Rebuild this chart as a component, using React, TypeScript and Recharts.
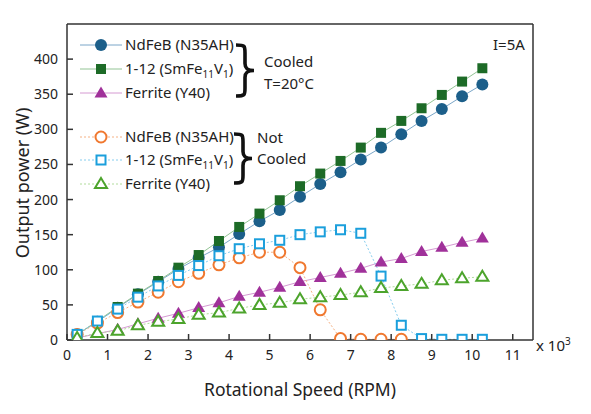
import React from 'react';
import { LineChart, Line, XAxis, YAxis, ReferenceLine } from 'recharts';

// rotational speed, x 10^3 RPM
const rpm = [0.25, 0.75, 1.25, 1.75, 2.25, 2.75, 3.25, 3.75, 4.25, 4.75, 5.25, 5.75, 6.25, 6.75, 7.25, 7.75, 8.25, 8.75, 9.25, 9.75, 10.25];

// output power (W), cooled T=20°C
const ndfebCooled = [8, 26, 46, 65, 83, 101, 117, 132, 151, 169, 185, 204, 222, 239, 257, 274, 293, 312, 329, 347, 364];
const smfeCooled = [8, 27, 47, 66, 84, 103, 121, 141, 161, 180, 199, 219, 237, 255, 274, 295, 312, 330, 349, 368, 387];
const ferriteCooled = [3, 9, 15, 23, 31, 38, 46, 53, 62, 68, 75, 83, 89, 95, 102, 111, 116, 126, 132, 139, 145];

// output power (W), not cooled
const ndfebNot = [8, 24, 39, 54, 68, 83, 95, 107, 117, 125, 125, 103, 43, 2, 1, 1, 1];
const smfeNot = [8, 27, 44, 61, 77, 92, 106, 120, 130, 137, 142, 150, 154, 157, 152, 91, 21, 2, 1, 1, 1];
const ferriteNot = [3, 10, 13, 21, 26, 30, 36, 39, 45, 50, 53, 58, 61, 64, 68, 74, 77, 80, 85, 88, 90];

const xTicks = [0, 1, 2, 3, 4, 5, 6, 7, 8, 9, 10, 11];
const yTicks = [0, 50, 100, 150, 200, 250, 300, 350, 400];

const FONT = '"Noto Sans", sans-serif';

const toPoints = (vals: number[]) => vals.map((y, i) => ({ x: rpm[i], y }));

type Marker = 'circle' | 'square' | 'triangle';

function drawMarker(kind: Marker, cx: number, cy: number, color: string, hollow: boolean, key?: any) {
    const fill = hollow ? '#fff' : color;
    const sw = hollow ? 2 : 0;
    if (kind === 'circle') {
        return <circle key={key} cx={cx} cy={cy} r={hollow ? 5.5 : 6} fill={fill} stroke={color} strokeWidth={sw} />;
    }
    if (kind === 'square') {
        const s = hollow ? 9 : 10;
        return <rect key={key} x={cx - s / 2} y={cy - s / 2} width={s} height={s} fill={fill} stroke={color} strokeWidth={sw} />;
    }
    const h = hollow ? 10 : 11;
    const w = hollow ? 12 : 13;
    return (
        <polygon
            key={key}
            points={`${cx},${cy - h * 0.6} ${cx + w / 2},${cy + h * 0.4} ${cx - w / 2},${cy + h * 0.4}`}
            fill={fill}
            stroke={color}
            strokeWidth={sw}
            strokeLinejoin="miter"
        />
    );
}

const makeDot = (kind: Marker, color: string, hollow: boolean) => (p: any) =>
    drawMarker(kind, p.cx, p.cy, color, hollow, p.key ?? `${p.index}`);

interface SeriesDef {
    id: string;
    data: number[];
    marker: Marker;
    color: string;
    line: string;
    hollow: boolean;
}

const series: SeriesDef[] = [
    { id: 'ndfebC', data: ndfebCooled, marker: 'circle', color: '#1c5f8a', line: '#7aa6c8', hollow: false },
    { id: 'smfeC', data: smfeCooled, marker: 'square', color: '#1d6b27', line: '#93c495', hollow: false },
    { id: 'ferC', data: ferriteCooled, marker: 'triangle', color: '#a0319a', line: '#d59ad2', hollow: false },
    { id: 'ndfebN', data: ndfebNot, marker: 'circle', color: '#f0782f', line: '#f5b184', hollow: true },
    { id: 'smfeN', data: smfeNot, marker: 'square', color: '#1b9fdc', line: '#86cdee', hollow: true },
    { id: 'ferN', data: ferriteNot, marker: 'triangle', color: '#4ca42c', line: '#b1dc9c', hollow: true },
];

const legendLabels = [
    <>NdFeB (N35AH)</>,
    <>1-12 (SmFe<sub style={{ fontSize: 10 }}>11</sub>V<sub style={{ fontSize: 10 }}>1</sub>)</>,
    <>Ferrite (Y40)</>,
];

const legendRows = [45, 69, 93, 137, 160, 184];

function brace(x: number, top: number, bottom: number, w: number) {
    const mid = (top + bottom) / 2;
    const m = x + w * 0.5;
    return `M ${x},${top} C ${m},${top} ${m},${top + 1} ${m},${top + 8} L ${m},${mid - 7} C ${m},${mid - 1} ${x + w * 0.7},${mid} ${x + w},${mid} C ${x + w * 0.7},${mid} ${m},${mid + 1} ${m},${mid + 7} L ${m},${bottom - 8} C ${m},${bottom - 1} ${m},${bottom} ${x},${bottom}`;
}

export default function App() {
    const textStyle: React.CSSProperties = { position: 'absolute', fontFamily: FONT, color: '#222', whiteSpace: 'nowrap' };
    return (
        <div style={{ position: 'absolute', left: 0, top: 0, width: 591, height: 414, background: '#fff' }}>
            <LineChart width={591} height={414} margin={{ top: 24, right: 58, bottom: 44, left: 0 }}>
                <XAxis
                    dataKey="x"
                    type="number"
                    domain={[0, 11.5]}
                    ticks={xTicks}
                    height={30}
                    tickSize={-6}
                    tickMargin={16}
                    allowDataOverflow
                    stroke="#333"
                    strokeWidth={1.5}
                    tick={{ fontSize: 14, fontFamily: FONT, fill: '#222' }}
                />
                <YAxis
                    type="number"
                    domain={[0, 450]}
                    ticks={yTicks}
                    width={67}
                    tickSize={-6}
                    tickMargin={15}
                    allowDataOverflow
                    stroke="#333"
                    strokeWidth={1.5}
                    tick={{ fontSize: 14, fontFamily: FONT, fill: '#222' }}
                />
                <ReferenceLine y={450} stroke="#333" strokeWidth={1.5} />
                <ReferenceLine x={11.5} stroke="#333" strokeWidth={1.5} />
                {series.map((s) => (
                    <Line
                        key={s.id}
                        data={toPoints(s.data)}
                        dataKey="y"
                        type="linear"
                        stroke={s.line}
                        strokeWidth={1}
                        strokeDasharray={s.hollow ? '2 2' : undefined}
                        dot={makeDot(s.marker, s.color, s.hollow)}
                        activeDot={false}
                        isAnimationActive={false}
                    />
                ))}
            </LineChart>

            {/* legend */}
            <svg width={591} height={414} style={{ position: 'absolute', left: 0, top: 0, pointerEvents: 'none' }}>
                {series.map((s, i) => (
                    <g key={s.id}>
                        <line
                            x1={80}
                            x2={122}
                            y1={legendRows[i]}
                            y2={legendRows[i]}
                            stroke={s.line}
                            strokeWidth={1}
                            strokeDasharray={s.hollow ? '2 2' : undefined}
                        />
                        {drawMarker(s.marker, 101, legendRows[i], s.color, s.hollow)}
                    </g>
                ))}
                <path d={brace(236, 45, 96, 18)} fill="none" stroke="#111" strokeWidth={3.6} />
                <path d={brace(234, 134, 183, 18)} fill="none" stroke="#111" strokeWidth={3.6} />
            </svg>
            {series.map((s, i) => (
                <div key={s.id + 'lbl'} style={{ ...textStyle, left: 125, top: legendRows[i] - 11, fontSize: 15, lineHeight: '20px' }}>
                    {legendLabels[i % 3]}
                </div>
            ))}
            <div style={{ ...textStyle, left: 264, top: 50, fontSize: 15, lineHeight: '22px' }}>
                Cooled
                <br />
                T=20°C
            </div>
            <div style={{ ...textStyle, left: 257, top: 127, fontSize: 15, lineHeight: '21px' }}>
                Not
                <br />
                Cooled
            </div>
            <div style={{ ...textStyle, left: 493, top: 34, fontSize: 15 }}>I=5A</div>
            <div style={{ ...textStyle, left: 536, top: 334, fontSize: 15 }}>
                x 10<sup style={{ fontSize: 10 }}>3</sup>
            </div>
            <div style={{ ...textStyle, left: 0, width: 600, textAlign: 'center', top: 377, fontSize: 17.5 }}>
                Rotational Speed (RPM)
            </div>
            <div
                style={{
                    ...textStyle,
                    left: 22,
                    top: 183,
                    fontSize: 18,
                    transform: 'translate(-50%, -50%) rotate(-90deg)',
                }}
            >
                Output power (W)
            </div>
        </div>
    );
}
